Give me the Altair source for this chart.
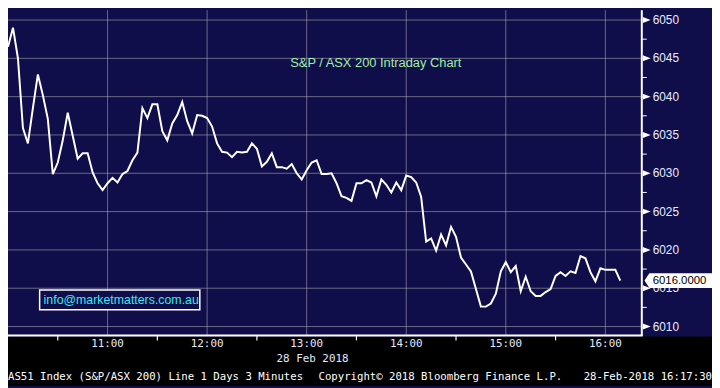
import altair as alt
import pandas as pd

# ---- data -------------------------------------------------------------
values = [6046.5, 6049.0, 6045.0, 6035.9, 6033.9, 6038.5, 6042.9, 6040.2, 6037.1, 6029.9,
          6031.4, 6034.3, 6037.9, 6034.9, 6031.9, 6032.6, 6032.6, 6030.1, 6028.7, 6027.8,
          6028.7, 6029.4, 6028.8, 6029.9, 6030.3, 6031.7, 6032.7, 6038.5, 6037.2, 6039.0,
          6039.0, 6035.5, 6034.3, 6036.5, 6037.6, 6039.3, 6036.8, 6035.2, 6037.6, 6037.5,
          6037.2, 6036.1, 6033.9, 6032.8, 6032.7, 6032.1, 6032.8, 6032.7, 6032.8, 6033.9,
          6033.2, 6030.9, 6031.5, 6032.6, 6030.8, 6030.8, 6030.6, 6031.2, 6030.0, 6029.2,
          6030.4, 6031.4, 6031.7, 6029.9, 6029.9, 6030.0, 6028.7, 6027.0, 6026.8, 6026.4,
          6028.7, 6028.7, 6029.1, 6028.8, 6027.0, 6029.2, 6028.5, 6027.5, 6028.8, 6027.8,
          6029.7, 6029.5, 6028.8, 6026.9, 6021.1, 6021.5, 6019.9, 6022.0, 6020.6, 6023.0,
          6021.7, 6019.0, 6018.1, 6017.2, 6014.9, 6012.6, 6012.6, 6013.0, 6014.3, 6017.2,
          6018.4, 6017.1, 6017.9, 6014.6, 6016.5, 6014.6, 6014.0, 6014.0, 6014.5, 6014.9,
          6016.6, 6017.1, 6016.6, 6017.2, 6017.0, 6019.2, 6018.9, 6017.1, 6015.9, 6017.6,
          6017.4, 6017.4, 6017.4, 6016.0]
# 3-minute bars starting 10:00 (hours of day)
times = [10 + i * 3 / 60 for i in range(len(values))]

hour_ticks = [11, 12, 13, 14, 15, 16]
hour_labels = ["11:00", "12:00", "13:00", "14:00", "15:00", "16:00"]
half_hour_ticks = [10.5, 11.5, 12.5, 13.5, 14.5, 15.5]
y_major = [6010, 6015, 6020, 6025, 6030, 6035, 6040, 6045, 6050]
y_labels = ["6010", "6015", "6020", "6025", "6030", "6035", "6040", "6045", "6050"]
y_minor = [6012.5, 6017.5, 6022.5, 6027.5, 6032.5, 6037.5, 6042.5, 6047.5]
last_price = [6016.0]
last_label = ["6016.0000"]

title_text = "S&P / ASX 200 Intraday Chart"
email_text = "info@marketmatters.com.au"
date_text = "28 Feb 2018"
footer_left = "AS51 Index (S&P/ASX 200) Line 1 Days 3 Minutes"
footer_mid = "Copyright\u00a9 2018 Bloomberg Finance L.P."
footer_right = "28-Feb-2018 16:17:30"

# ---- layout ----------------------------------------------------------
W, H = 641, 329
TOTAL_W, TOTAL_H = 712, 380
NAVY = "#100e4a"
GRID = "#b4b4b4"
LABEL = "#e4ebff"

xs = alt.Scale(domain=[10, 16.366], nice=False, zero=False)
ys = alt.Scale(domain=[6008.84, 6051.29], nice=False, zero=False)

df = pd.DataFrame({"t": times, "v": values})
one = pd.DataFrame({"a": [0]})
X = lambda: alt.X("t:Q", scale=xs, axis=None)
Y = lambda: alt.Y("v:Q", scale=ys, axis=None)


def label(text, x, y, align, color, font, size):
    return alt.Chart(pd.DataFrame({"s": [text]})).mark_text(
        color=color, font=font, fontSize=size, align=align, baseline="middle").encode(
        x=alt.value(x), y=alt.value(y), text="s:N")


hgrid = alt.Chart(pd.DataFrame({"g": y_major})).mark_rule(
    color=GRID, strokeWidth=1, strokeOpacity=0.55).encode(
    y=alt.Y("g:Q", scale=ys, axis=None))

vgrid = alt.Chart(pd.DataFrame({"t": hour_ticks})).mark_rule(
    color=GRID, strokeWidth=1, strokeOpacity=0.55).encode(
    x=X(), y=alt.value(0), y2=alt.value(H))

line = alt.Chart(df).mark_line(color="white", strokeWidth=2).encode(x=X(), y=Y())

bottom_band = alt.Chart(one).mark_rect(color="black").encode(
    x=alt.value(0), x2=alt.value(TOTAL_W), y=alt.value(H + 1), y2=alt.value(TOTAL_H))

xaxis_line = alt.Chart(one).mark_rule(color="white", strokeWidth=2).encode(
    x=alt.value(0), x2=alt.value(W + 1), y=alt.value(H))

yaxis_line = alt.Chart(one).mark_rule(color="white", strokeWidth=2).encode(
    x=alt.value(W), y=alt.value(0), y2=alt.value(H))

half_ticks = alt.Chart(pd.DataFrame({"t": half_hour_ticks})).mark_rule(
    color="white", strokeWidth=1.2).encode(
    x=X(), y=alt.value(H), y2=alt.value(H + 5))

hour_text = alt.Chart(pd.DataFrame({"t": hour_ticks, "lab": hour_labels})).mark_text(
    color=LABEL, font="DejaVu Sans Mono", fontSize=11, baseline="middle", align="center").encode(
    x=X(), y=alt.value(H + 9), text="lab:N")

y_text = alt.Chart(pd.DataFrame({"v": y_major, "lab": y_labels})).mark_text(
    color=LABEL, font="Liberation Sans", fontSize=12, baseline="middle", align="left").encode(
    y=Y(), x=alt.value(W + 11), text="lab:N")

date_lbl = label(date_text, 308, H + 24, "center", LABEL, "DejaVu Sans Mono", 11)
foot_l = label(footer_left, 0, H + 42, "left", "white", "DejaVu Sans Mono", 10.8)
foot_m = label(footer_mid, 314, H + 42, "left", "white", "DejaVu Sans Mono", 10.8)
foot_r = label(footer_right, TOTAL_W, H + 42, "right", "white", "DejaVu Sans Mono", 10.8)

minor_ticks = alt.Chart(pd.DataFrame({"v": y_minor})).mark_rule(color="white", strokeWidth=1).encode(
    y=Y(), x=alt.value(W), x2=alt.value(W + 5))

major_arrows = alt.Chart(pd.DataFrame({"v": y_major})).mark_point(
    shape="M -1 -0.75 L 1 0 L -1 0.75 Z", filled=True, color="white", size=64,
    opacity=1, strokeWidth=0).encode(y=Y(), x=alt.value(W + 5))

price_box = alt.Chart(pd.DataFrame({"v": last_price})).mark_point(
    shape="M -0.95 0 L -0.81 -0.214 L 1 -0.214 L 1 0.214 L -0.81 0.214 Z",
    filled=True, color="white", size=4900, opacity=1, strokeWidth=0).encode(
    y=Y(), x=alt.value(677))

price_text = alt.Chart(pd.DataFrame({"v": last_price, "s": last_label})).mark_text(
    color="black", font="Liberation Sans", fontSize=11.5, align="left", baseline="middle").encode(
    y=Y(), x=alt.value(652), text="s:N")

title_mark = label(title_text, 372, 54, "center", "#9ff09f", "Liberation Sans", 13)

email_box = alt.Chart(one).mark_rect(fill=NAVY, stroke="white", strokeWidth=1.5).encode(
    x=alt.value(32), x2=alt.value(194), y=alt.value(283), y2=alt.value(303))

email_text_mark = label(email_text, 36, 293.5, "left", "#3fe6ee", "Liberation Sans", 12.5)

chart = alt.layer(
    hgrid, vgrid, line, title_mark, email_box, email_text_mark,
    bottom_band, xaxis_line, yaxis_line, half_ticks, hour_text, date_lbl,
    foot_l, foot_m, foot_r, minor_ticks, major_arrows, y_text, price_box, price_text,
).properties(
    width=W, height=H,
    padding={"left": 0, "top": 0, "right": TOTAL_W - W, "bottom": TOTAL_H - H},
    autosize=alt.AutoSizeParams(type="none"),
    background=NAVY,
).configure_view(fill=NAVY, stroke=None)

chart.save("out.html", embed_options={"renderer": "svg", "actions": False})
